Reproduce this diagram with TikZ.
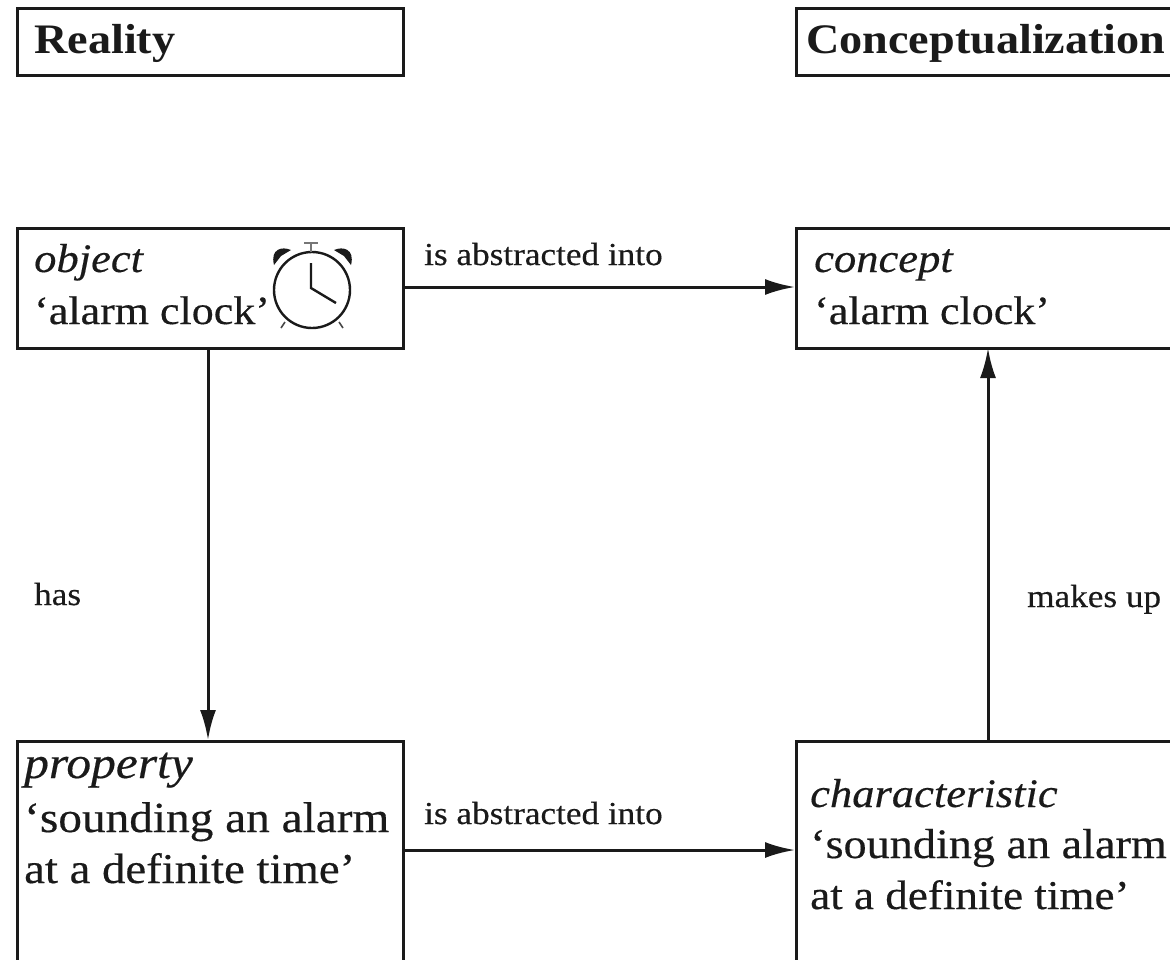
\documentclass[tikz,border=0pt]{standalone}
\usepackage{fontspec}
\setmainfont[FakeStretch=1.1,UprightFeatures={FakeBold=0.4},ItalicFeatures={FakeBold=0.4}]{Liberation Serif}
\usetikzlibrary{arrows.meta}
\definecolor{ink}{HTML}{1A1A1A}
\tikzset{
 boxn/.style={draw=ink,line width=2.8pt,anchor=north west,inner sep=0pt},
 txt/.style={anchor=base west,inner sep=0pt,text=ink},
 lbl/.style={txt,font=\fontsize{32}{34}\selectfont},
 big/.style={txt,font=\fontsize{#1}{46}\selectfont},
 ital/.style={txt,font=\fontsize{#1}{46}\selectfont\itshape},
 head/.style={txt,font=\fontsize{42}{46}\selectfont\bfseries},
 conn/.style={draw=ink,line width=3pt,-{Latex[length=30pt,width=16pt]}}
}
\begin{document}
\begin{tikzpicture}[x=1pt,y=-1pt]
\useasboundingbox (0,0) rectangle (1170,959);
\path[clip] (0,0) rectangle (1170,959);
\node[boxn,minimum width=386pt,minimum height=67pt] (reality) at (16,7) {};
\node[boxn,minimum width=390pt,minimum height=67pt] (conc) at (795,7) {};
\node[boxn,minimum width=386pt,minimum height=120pt] (object) at (16,227) {};
\node[boxn,minimum width=390pt,minimum height=120pt] (concept) at (795,227) {};
\node[boxn,minimum width=386pt,minimum height=240pt] (property) at (16,740) {};
\node[boxn,minimum width=390pt,minimum height=240pt] (charac) at (795,740) {};
\node[head] (t1) at (34,53) {Reality};
\node[head] (t2) at (806,53) {Conceptualization};
\node[ital=40.5] (t3) at (34,272) {object};
\node[big=40] (t4) at (34,324) {‘alarm clock’};
\node[ital=40.5] (t5) at (814,272) {concept};
\node[big=40] (t6) at (814,324) {‘alarm clock’};
\node[ital=45] (t7) at (24,778) {property};
\node[big=43] (t8) at (24,832) {‘sounding an alarm};
\node[big=42.5] (t9) at (24,883) {at a definite time’};
\node[ital=40.5] (t10) at (810,807) {characteristic};
\node[big=42] (t11) at (810,858) {‘sounding an alarm};
\node[big=41] (t12) at (810,909) {at a definite time’};
\node[lbl] (l1) at (424,265) {is abstracted into};
\node[lbl] (l2) at (424,824) {is abstracted into};
\node[lbl] (l3) at (34,605) {has};
\node[lbl] (l4) at (1027,607) {makes up};
\coordinate (a1) at (403,287); \coordinate (a2) at (795,287);
\draw[conn] (a1) -- (a2);
\coordinate (b1) at (403,850); \coordinate (b2) at (795,850);
\draw[conn] (b1) -- (b2);
\coordinate (c1) at (208,348); \coordinate (c2) at (208,740);
\draw[conn] (c1) -- (c2);
\coordinate (d1) at (988,740); \coordinate (d2) at (988,348);
\draw[conn] (d1) -- (d2);
% clock
\draw[ink,line width=2.4pt] (312,290) ellipse (38 and 38);
\draw[ink,line width=2.4pt] (311,263) -- (311,288) -- (336,303);
\fill[ink] (274,265) .. controls (270,249) and (282,246) .. (291,250) -- (281,256) -- cycle;
\fill[ink] (351,265) .. controls (355,249) and (343,246) .. (334,250) -- (344,256) -- cycle;
\draw[ink!60,line width=1.6pt] (311,252) -- (311,243) (304,243) -- (318,243);
\draw[ink!80,line width=1.6pt] (285,322) -- (281,328) (339,322) -- (343,328);
\end{tikzpicture}
\end{document}
